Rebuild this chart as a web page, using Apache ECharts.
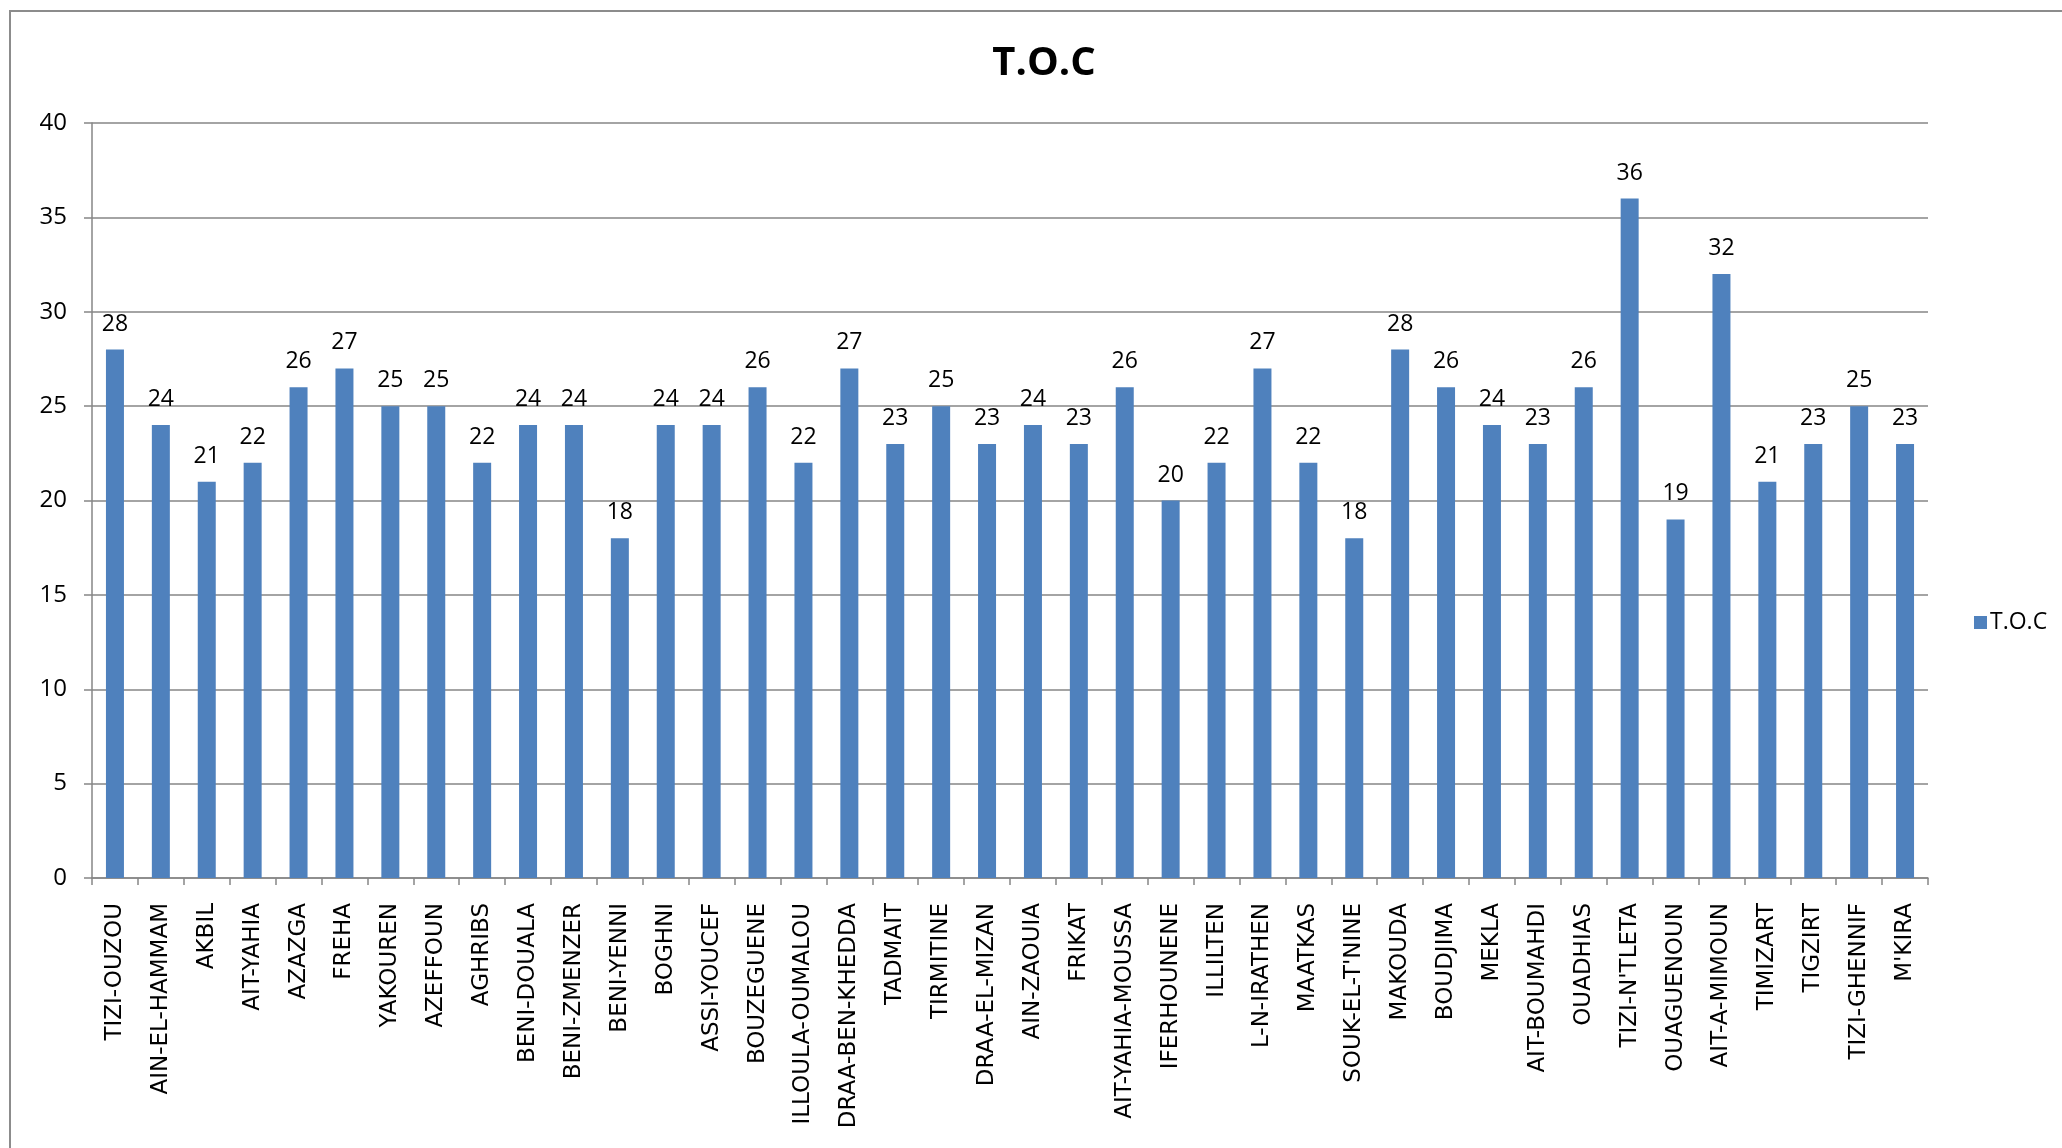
<!DOCTYPE html>
<html>
<head>
<meta charset="utf-8">
<script src="https://cdn.jsdelivr.net/npm/echarts@6/dist/echarts.min.js"></script>
<style>
html,body{margin:0;padding:0;background:#fff;}
#chart{width:2062px;height:1148px;}
</style>
</head>
<body>
<div id="chart"></div>
<script>
const categories = ["TIZI-OUZOU","AIN-EL-HAMMAM","AKBIL","AIT-YAHIA","AZAZGA","FREHA","YAKOUREN","AZEFFOUN","AGHRIBS","BENI-DOUALA","BENI-ZMENZER","BENI-YENNI","BOGHNI","ASSI-YOUCEF","BOUZEGUENE","ILLOULA-OUMALOU","DRAA-BEN-KHEDDA","TADMAIT","TIRMITINE","DRAA-EL-MIZAN","AIN-ZAOUIA","FRIKAT","AIT-YAHIA-MOUSSA","IFERHOUNENE","ILLILTEN","L-N-IRATHEN","MAATKAS","SOUK-EL-T'NINE","MAKOUDA","BOUDJIMA","MEKLA","AIT-BOUMAHDI","OUADHIAS","TIZI-N'TLETA","OUAGUENOUN","AIT-A-MIMOUN","TIMIZART","TIGZIRT","TIZI-GHENNIF","M'KIRA"];
const tocValues = [28,24,21,22,26,27,25,25,22,24,24,18,24,24,26,22,27,23,25,23,24,23,26,20,22,27,22,18,28,26,24,23,26,36,19,32,21,23,25,23];
const seriesName = "T.O.C";
const titleText = "T.O.C";

const chart = echarts.init(document.getElementById('chart'), null, {renderer:'canvas'});
const gridColor = '#868686';
chart.setOption({
  animation:false,
  backgroundColor:'#ffffff',
  graphic:[{type:'rect', silent:true, z:-1, shape:{x:10,y:11,width:2300,height:1400}, style:{fill:'none', stroke:'#8c8c8c', lineWidth:2}}],
  title:{text:titleText, left:1039, textAlign:'center', top:39,
    textStyle:{fontFamily:'Open Sans', fontWeight:'bold', fontSize:40, color:'#000'}},
  legend:{orient:'vertical', left:1969, top:606, icon:'rect', itemWidth:13, itemHeight:13, itemGap:6,
    textStyle:{fontFamily:'Open Sans', fontSize:23, color:'#000', padding:[0,0,0,-2]}, data:[seriesName]},
  grid:{left:92, top:123, right:134, bottom:270, containLabel:false},
  xAxis:{type:'category', data:categories, boundaryGap:true,
    axisLine:{lineStyle:{color:gridColor, width:1.5}},
    axisTick:{show:true, length:7, lineStyle:{color:gridColor, width:1.5}},
    axisLabel:{rotate:90, interval:0, margin:25, fontFamily:'DejaVu Sans', fontSize:23, color:'#000'}},
  yAxis:{type:'value', min:0, max:40, interval:5,
    axisLine:{show:true, lineStyle:{color:gridColor, width:1.5}},
    axisTick:{show:true, length:8, lineStyle:{color:gridColor, width:1.5}},
    splitLine:{lineStyle:{color:gridColor, width:1.5}},
    axisLabel:{margin:25, fontFamily:'Open Sans', fontSize:24, color:'#000'}},
  series:[{name:seriesName, type:'bar', data:tocValues, barWidth:18,
    itemStyle:{color:'#4F81BD'},
    label:{show:true, position:'top', distance:14, fontFamily:'Open Sans', fontSize:23, color:'#000'}}]
});
</script>
</body>
</html>
